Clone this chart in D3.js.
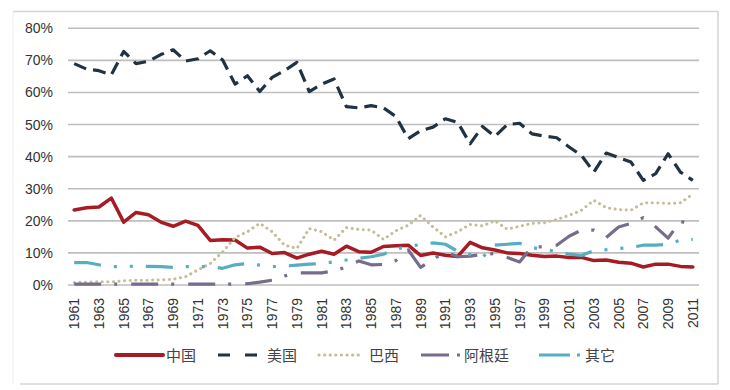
<!DOCTYPE html>
<html><head><meta charset="utf-8">
<script src="https://cdn.jsdelivr.net/npm/d3@7/dist/d3.min.js"></script>
<style>body{margin:0;background:#fff}svg{display:block}</style>
</head><body><svg id="c" width="730" height="390"></svg>
<script>
const years = [1961,1962,1963,1964,1965,1966,1967,1968,1969,1970,1971,1972,1973,1974,1975,1976,1977,1978,1979,1980,1981,1982,1983,1984,1985,1986,1987,1988,1989,1990,1991,1992,1993,1994,1995,1996,1997,1998,1999,2000,2001,2002,2003,2004,2005,2006,2007,2008,2009,2010,2011];
const yTicks = [0,10,20,30,40,50,60,70,80];
const seriesNames = ["中国","美国","巴西","阿根廷","其它"];
const china = [23.4,24.1,24.3,27.1,19.6,22.6,21.9,19.6,18.3,19.9, 18.6,13.9,14.1,14.0,11.5,11.8,9.8,10.1,8.4,9.6, 10.5,9.6,12.1,10.4,10.2,12.0,12.2,12.4,9.2,10.0, 9.3,8.9,13.3,11.6,10.9,10.0,9.8,9.3,8.9,9.0, 8.6,8.6,7.6,7.8,7.1,6.8,5.6,6.5,6.5,5.8,5.6];
const usa = [69.0,67.3,66.8,65.5,72.8,69.0,69.7,71.8,73.3,69.8, 70.5,73.0,70.1,62.6,65.2,60.3,64.7,66.8,69.4,60.3, 62.6,64.2,55.6,55.2,55.9,55.2,52.5,45.6,48.1,49.2, 51.8,50.7,44.0,49.4,46.3,50.0,50.4,47.1,46.4,45.9, 43.0,40.4,35.2,41.1,39.7,38.3,32.6,34.7,40.9,35.2,32.6];
const brazil = [0.8,0.9,1.0,1.0,1.3,1.5,1.5,1.6,1.8,2.6, 4.7,6.7,10.3,14.8,16.6,19.2,16.6,12.4,11.4,17.6, 16.6,14.0,17.9,17.3,17.1,14.2,16.9,18.6,21.7,18.1, 15.0,16.6,18.9,18.4,20.0,17.4,18.3,19.2,19.4,20.4, 21.7,23.3,26.4,24.1,23.5,23.3,25.6,25.6,25.4,25.6,28.3];
const argentina = [0.3,0.3,0.3,0.3,0.3,0.3,0.3,0.3,0.3,0.3, 0.3,0.3,0.3,0.3,0.4,0.9,1.5,2.8,3.8,3.8, 3.8,4.4,5.6,7.5,6.3,6.4,7.6,10.9,5.5,8.0, 10.3,8.8,9.0,9.5,9.8,8.6,7.2,11.9,11.9,12.4, 15.2,17.1,17.1,14.8,18.1,19.2,21.0,18.1,14.6,19.9,18.6];
const others = [7.0,7.0,6.3,5.7,5.7,5.9,5.8,5.7,5.5,5.7, 5.7,5.7,5.2,6.3,6.7,6.2,5.7,5.9,6.2,6.5, 6.7,7.2,7.8,8.3,8.8,9.6,11.2,12.0,12.6,13.1, 12.7,10.5,9.5,8.6,12.4,12.7,13.0,11.7,11.0,10.5, 9.6,9.2,10.7,11.0,11.4,11.7,12.4,12.4,12.7,14.0,14.2];

const seriesValues = [china, usa, brazil, argentina, others];
const styles = [
  {color:"#A51C24", width:3.5, dash:null, cap:"round"},
  {color:"#213243", width:3.2, dash:"13,7", cap:"butt"},
  {color:"#C4BD97", width:3, dash:"0.1,5.5", cap:"round"},
  {color:"#776C8C", width:3.2, dash:"27,13,3,14", cap:"butt"},
  {color:"#55AEC2", width:3.2, dash:"27,13,3,13,3,13", cap:"butt"}
];

const svg = d3.select("#c");
const x = d3.scaleBand().domain(years).range([68, 699]);
const xc = d => x(d) + x.bandwidth()/2;
const y = d3.scaleLinear().domain([0, 80]).range([285, 28.3]);

// frame
svg.append("line").attr("x1",13).attr("x2",718).attr("y1",11.5).attr("y2",11.5).attr("stroke","#D4D4D4").attr("stroke-width",1.5);
svg.append("line").attr("x1",718).attr("x2",718).attr("y1",11).attr("y2",384).attr("stroke","#D4D4D4").attr("stroke-width",1.5);
svg.append("line").attr("x1",20).attr("x2",718).attr("y1",384).attr("y2",384).attr("stroke","#D4D4D4").attr("stroke-width",1.5);
svg.append("line").attr("x1",13).attr("x2",13).attr("y1",11).attr("y2",384).attr("stroke","#EEEEEE").attr("stroke-width",1);

// gridlines
svg.append("g").selectAll("line").data(yTicks).join("line")
  .attr("x1",68).attr("x2",699).attr("y1",d=>y(d)).attr("y2",d=>y(d))
  .attr("stroke","#BEBEBE").attr("stroke-width",1.6);

// y axis labels
const yAxis = d3.axisLeft(y).tickValues(yTicks).tickFormat(d=>d+"%").tickSize(0).tickPadding(0);
const gy = svg.append("g").attr("transform","translate(53,0)").call(yAxis);
gy.select(".domain").remove();
gy.selectAll("text").attr("font-family","'Liberation Sans',Arial,sans-serif").attr("font-size",14).attr("fill","#333");

// x axis labels
const xAxis = d3.axisBottom(x).tickValues(years.filter((d,i)=>i%2===0)).tickSize(0).tickPadding(0);
const gx = svg.append("g").attr("transform","translate(0,297)").call(xAxis);
gx.select(".domain").remove();
gx.selectAll("text").attr("font-family","'Liberation Sans',Arial,sans-serif").attr("font-size",14).attr("fill","#333")
  .attr("transform","rotate(-90)").attr("text-anchor","end").attr("x",-1).attr("y",0).attr("dy","0.36em");

// lines
const line = d3.line().x((d,i)=>xc(years[i])).y(d=>y(d));
seriesValues.forEach((vals,k)=>{
  const s = styles[k];
  const p = svg.append("path").datum(vals).attr("d",line).attr("fill","none")
    .attr("stroke",s.color).attr("stroke-width",s.width).attr("stroke-linecap",s.cap).attr("stroke-linejoin","round");
  if (s.dash) p.attr("stroke-dasharray",s.dash);
});

// legend
const legY = 355;
const leg = [
  {x1:116,x2:163,tx:166,dash:null},
  {x1:218,x2:258,tx:267,dash:"12,15"},
  {x1:319,x2:360,tx:369,dash:"0.1,5.5"},
  {x1:421,x2:460,tx:464,dash:"28,8,3,30"},
  {x1:539,x2:580,tx:585,dash:"31,7,3,30"}
];
leg.forEach((l,k)=>{
  const s = styles[k];
  const p = svg.append("line").attr("x1",l.x1).attr("x2",l.x2).attr("y1",legY).attr("y2",legY)
    .attr("stroke",s.color).attr("stroke-width",k===0?4:3.2).attr("stroke-linecap",s.cap);
  if (l.dash) p.attr("stroke-dasharray",l.dash);
  svg.append("text").attr("x",l.tx).attr("y",legY+5.5).text(seriesNames[k])
    .attr("font-family","'Noto Sans CJK SC',sans-serif").attr("font-size",15).attr("fill","#444");
});
</script></body></html>
